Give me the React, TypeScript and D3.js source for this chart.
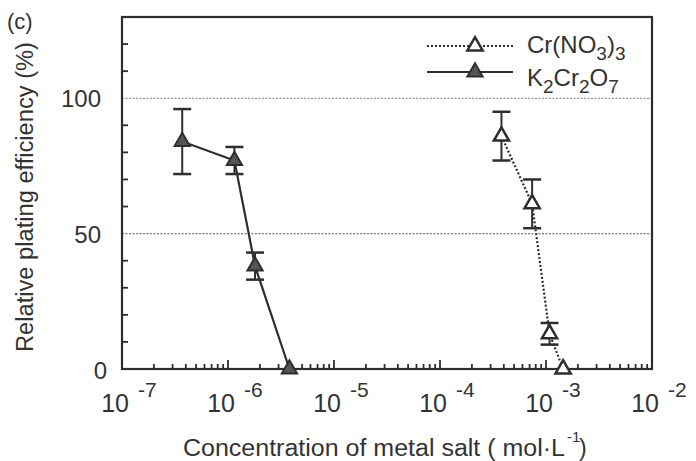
import React from "react";
import * as d3 from "d3";

// K2Cr2O7 series (solid line, filled triangles)
const kConc = [3.7e-7, 1.15e-6, 1.8e-6, 3.8e-6];
const kEff = [84, 77, 38, 0];
const kErr = [12, 5, 5, 0];

// Cr(NO3)3 series (dotted line, open triangles)
const crConc = [3.8e-4, 7.4e-4, 1.08e-3, 1.45e-3];
const crEff = [86, 61, 13, 0];
const crErr = [9, 9, 4, 0];

const yLabels = [0, 50, 100];
const yMinor = [10, 20, 30, 40, 60, 70, 80, 90, 110, 120];
const gridLines = [50, 100];
const xDecades = [-7, -6, -5, -4, -3, -2];

const W = 696;
const H = 461;
const margin = { top: 17, right: 44, bottom: 92, left: 122 };
const FONT = "'Liberation Sans', Arial, sans-serif";
const INK = "#2e2e2e";

const App = () => {
  const x = d3
    .scaleLog()
    .domain([1e-7, 1e-2])
    .range([margin.left, W - margin.right]);
  const y = d3
    .scaleLinear()
    .domain([0, 130])
    .range([H - margin.bottom, margin.top]);

  const x0 = margin.left;
  const x1 = W - margin.right;
  const y0 = H - margin.bottom;
  const y1 = margin.top;

  const kData = kConc.map((c, i) => ({ c, v: kEff[i], e: kErr[i] }));
  const crData = crConc.map((c, i) => ({ c, v: crEff[i], e: crErr[i] }));

  const line = d3
    .line<{ c: number; v: number }>()
    .x((d) => x(d.c))
    .y((d) => y(d.v));

  const tri = d3.symbol().type(d3.symbolTriangle).size(100)();

  // 2..9 within each decade
  const minorX: number[] = [];
  xDecades.slice(0, -1).forEach((p) => {
    for (let m = 2; m <= 9; m++) minorX.push(m * Math.pow(10, p));
  });

  const errBars = (data: { c: number; v: number; e: number }[], key: string) =>
    data
      .filter((d) => d.e > 0)
      .map((d, i) => (
        <g key={key + i} stroke={INK} strokeWidth={2}>
          <line x1={x(d.c)} x2={x(d.c)} y1={y(d.v + d.e)} y2={y(d.v - d.e)} />
          <line x1={x(d.c) - 9} x2={x(d.c) + 9} y1={y(d.v + d.e)} y2={y(d.v + d.e)} strokeWidth={2.5} />
          <line x1={x(d.c) - 9} x2={x(d.c) + 9} y1={y(d.v - d.e)} y2={y(d.v - d.e)} strokeWidth={2.5} />
        </g>
      ));

  return (
    <svg
      width={W}
      height={H}
      style={{ position: "absolute", left: 0, top: 0, background: "#fff" }}
      fontFamily={FONT}
    >
      <rect width={W} height={H} fill="#fff" />

      {/* grid lines at 50 and 100 */}
      {gridLines.map((g) => (
        <line
          key={"g" + g}
          x1={x0}
          x2={x1}
          y1={y(g)}
          y2={y(g)}
          stroke="#777"
          strokeWidth={1.2}
          strokeDasharray="2,1.5"
        />
      ))}

      {/* frame */}
      <rect x={x0} y={y1} width={x1 - x0} height={y0 - y1} fill="none" stroke={INK} strokeWidth={2.2} />

      {/* y minor ticks */}
      {yMinor.map((t) => (
        <line key={"ym" + t} x1={x0} x2={x0 + 6} y1={y(t)} y2={y(t)} stroke={INK} strokeWidth={1.8} />
      ))}

      {/* x minor ticks */}
      {minorX.map((t, i) => (
        <line key={"xm" + i} x1={x(t)} x2={x(t)} y1={y0} y2={y0 - 5} stroke={INK} strokeWidth={1.8} />
      ))}
      {xDecades.map((p) => (
        <line
          key={"xM" + p}
          x1={x(Math.pow(10, p))}
          x2={x(Math.pow(10, p))}
          y1={y0}
          y2={y0 - 9}
          stroke={INK}
          strokeWidth={1.8}
        />
      ))}

      {/* y tick labels */}
      {yLabels.map((t) => (
        <text
          key={"yl" + t}
          x={t === 0 ? 107 : 101}
          y={y(t) + (t === 0 ? 10 : 9)}
          textAnchor="end"
          fontSize={24}
          fill="#333"
        >
          {t}
        </text>
      ))}

      {/* x tick labels */}
      {xDecades.map((p) => {
        const tx = x(Math.pow(10, p));
        return (
          <g key={"xl" + p} fill="#333">
            <text x={tx + 7} y={412} textAnchor="end" fontSize={25}>
              10
            </text>
            <text x={tx + 16} y={397} fontSize={21}>
              {"-" + Math.abs(p)}
            </text>
          </g>
        );
      })}

      {/* axis titles */}
      <text
        transform="translate(33,352) rotate(-90)"
        fontSize={23}
        fill="#333"
        textLength={310}
        lengthAdjust="spacingAndGlyphs"
      >
        Relative plating efficiency (%)
      </text>
      <text x={183} y={456} fontSize={23} fill="#333" textLength={382} lengthAdjust="spacingAndGlyphs">
        Concentration of metal salt ( mol·L
      </text>
      <text x={567} y={442} fontSize={15} fill="#333">
        -1
      </text>
      <text x={579} y={456} fontSize={23} fill="#333">
        )
      </text>

      <text x={7} y={29} fontSize={22} fill="#333">
        (c)
      </text>

      {/* series lines */}
      <path d={line(kData) || ""} fill="none" stroke={INK} strokeWidth={2.2} />
      <path d={line(crData) || ""} fill="none" stroke={INK} strokeWidth={2.2} strokeDasharray="2,2" />

      {errBars(kData, "ke")}
      {errBars(crData, "ce")}

      {/* markers */}
      {kData.map((d, i) => (
        <path
          key={"km" + i}
          d={tri || ""}
          transform={`translate(${x(d.c)},${y(d.v)})`}
          fill="#555"
          stroke={INK}
          strokeWidth={2}
        />
      ))}
      {crData.map((d, i) => (
        <path
          key={"cm" + i}
          d={tri || ""}
          transform={`translate(${x(d.c)},${y(d.v)})`}
          fill="#fff"
          stroke={INK}
          strokeWidth={2.5}
        />
      ))}

      {/* legend */}
      <g>
        <line x1={427} x2={513} y1={46} y2={46} stroke={INK} strokeWidth={2} strokeDasharray="2,2" />
        <path d={tri || ""} transform="translate(475,46)" fill="#fff" stroke={INK} strokeWidth={2.5} />
        <text x={527} y={53} fontSize={24} fill="#333">
          Cr(NO
          <tspan fontSize={19} dy={7}>3</tspan>
          <tspan dy={-7}>)</tspan>
          <tspan fontSize={19} dy={7}>3</tspan>
        </text>
        <line x1={427} x2={513} y1={72} y2={72} stroke={INK} strokeWidth={2} />
        <path d={tri || ""} transform="translate(475,72)" fill="#555" stroke={INK} strokeWidth={2} />
        <text x={527} y={86} fontSize={24} fill="#333">
          K
          <tspan fontSize={19} dy={7}>2</tspan>
          <tspan dy={-7}>Cr</tspan>
          <tspan fontSize={19} dy={7}>2</tspan>
          <tspan dy={-7}>O</tspan>
          <tspan fontSize={19} dy={7}>7</tspan>
        </text>
      </g>
    </svg>
  );
};

export default App;
